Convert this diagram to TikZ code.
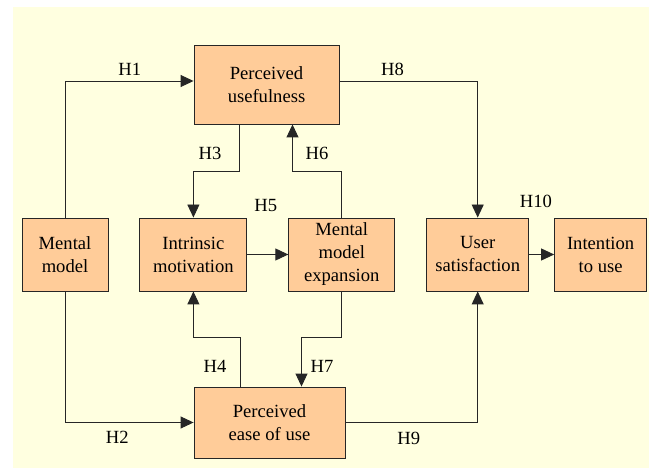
\documentclass[tikz,border=0pt]{standalone}
\usepackage{fontspec}
\setmainfont{Liberation Serif}
\usetikzlibrary{positioning,arrows.meta}
\definecolor{boxfill}{RGB}{255,204,153}
\definecolor{paper}{RGB}{255,255,224}

\begin{document}
\begin{tikzpicture}[x=1pt, y=-1pt,
    every node/.style={font=\fontsize{18.6}{23}\selectfont},
    box/.style={draw=black!85, line width=0.9pt, fill=boxfill, rectangle, align=center, inner sep=2pt, minimum height=73pt},
    lbl/.style={inner sep=0pt},
    arr/.style={draw=black!85, line width=0.9pt, -{Triangle[length=13pt, width=12pt]}}]

    \useasboundingbox (0,0) rectangle (649,468);
    \fill[paper] (13,7) rectangle (649,468);

    % middle row
    \node[box, minimum width=86pt] (mm) at (65,254.5) {Mental\\model};
    \node[box, minimum width=107pt, right=31pt of mm] (im) {Intrinsic\\motivation};
    \node[box, minimum width=106pt, right=41pt of im] (mme) {Mental\\model\\expansion};
    \node[box, minimum width=102pt, right=31pt of mme] (us) {User\\satisfaction};
    \node[box, minimum width=92pt, right=25pt of us] (iu) {Intention\\to use};

    % top and bottom
    \node[box, minimum width=145pt, minimum height=79pt] (pu) at (266.5,84.5) {Perceived\\usefulness};
    \node[box, minimum width=151pt, minimum height=71pt] (peou) at (269.5,422.5) {Perceived\\ease of use};

    \coordinate (upper) at (0,171);
    \coordinate (lower) at (0,337.7);
    \coordinate (pu3) at ([xshift=-27pt]pu.south);
    \coordinate (pu6) at ([xshift=26pt]pu.south);
    \coordinate (pe4) at ([xshift=-29pt]peou.north);
    \coordinate (pe7) at ([xshift=32pt]peou.north);

    \draw[arr] (mm.north) |- ([yshift=3.5pt]pu.west);
    \draw[arr] (mm.south) |- (peou.west);
    \draw[arr] (pu3) |- (upper -| im) -- (im.north);
    \draw[arr] (pe4) |- (lower -| im) -- (im.south);
    \draw[arr] (im) -- (mme);
    \draw[arr] (mme.north) |- (upper -| pu6) -- (pu6);
    \draw[arr] (mme.south) |- (lower -| pe7) -- (pe7);
    \draw[arr] ([yshift=3.5pt]pu.east) -| (us.north);
    \draw[arr] (peou.east) -| (us.south);
    \draw[arr] (us) -- (iu);

    % hypothesis labels
    \node[lbl] (h1) at (129.7,69) {H1};
    \node[lbl] (h2) at (117.3,437.8) {H2};
    \node[lbl] (h3) at (210,153) {H3};
    \node[lbl] (h4) at (215,366.7) {H4};
    \node[lbl] (h5) at (265.8,205.8) {H5};
    \node[lbl] (h6) at (317,153) {H6};
    \node[lbl] (h7) at (322,366.7) {H7};
    \node[lbl] (h8) at (392.5,69) {H8};
    \node[lbl] (h9) at (408.7,438.8) {H9};
    \node[lbl] (h10) at (536,201.7) {H10};
\end{tikzpicture}
\end{document}
